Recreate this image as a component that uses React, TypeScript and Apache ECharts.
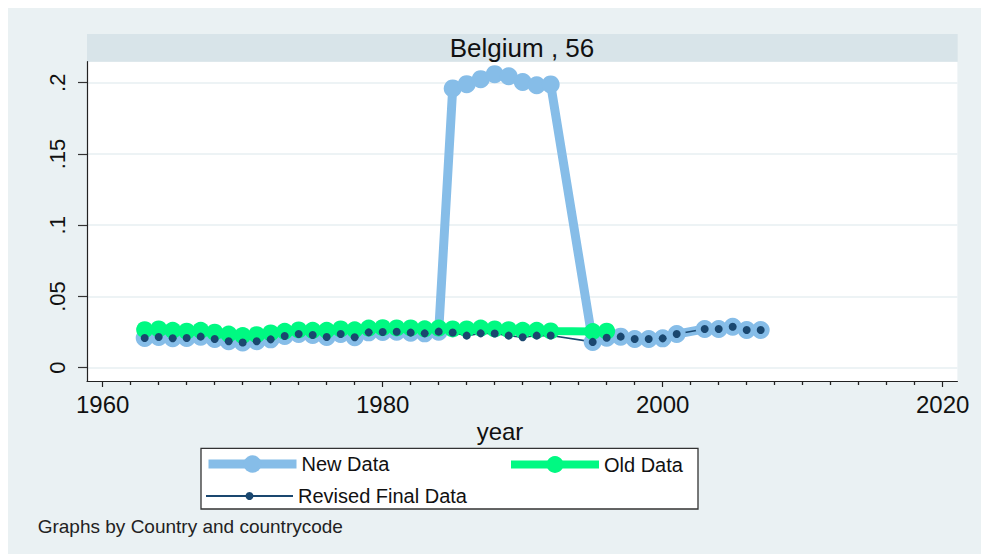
import React, { useEffect, useRef } from "react";
import * as echarts from "echarts";

// ---------- data ----------
const newYears = [
  1963, 1964, 1965, 1966, 1967, 1968, 1969, 1970, 1971, 1972, 1973, 1974, 1975, 1976, 1977,
  1978, 1979, 1980, 1981, 1982, 1983, 1984, 1985, 1986, 1987, 1988, 1989, 1990, 1991, 1992,
  1995, 1996, 1997, 1998, 1999, 2000, 2001, 2003, 2004, 2005, 2006, 2007,
];
const newValues = [
  0.0208, 0.0216, 0.0207, 0.0209, 0.0218, 0.0201, 0.0186, 0.0177, 0.0186, 0.0199, 0.0223, 0.0237, 0.0230, 0.0215, 0.0237,
  0.0214, 0.0248, 0.0251, 0.0252, 0.0246, 0.0241, 0.0253, 0.1960, 0.1990, 0.2025, 0.2060, 0.2045, 0.2005, 0.1982, 0.1988,
  0.0181, 0.0210, 0.0218, 0.0201, 0.0201, 0.0206, 0.0236, 0.0272, 0.0272, 0.0287, 0.0265, 0.0265,
];

const oldYears = [
  1963, 1964, 1965, 1966, 1967, 1968, 1969, 1970, 1971, 1972, 1973, 1974, 1975, 1976, 1977,
  1978, 1979, 1980, 1981, 1982, 1983, 1984, 1985, 1986, 1987, 1988, 1989, 1990, 1991, 1992,
  1995, 1996,
];
const oldValues = [
  0.0267, 0.0272, 0.0262, 0.0256, 0.0262, 0.0249, 0.0236, 0.0226, 0.0232, 0.0244, 0.0255, 0.0265, 0.0262, 0.0262, 0.0272,
  0.0266, 0.0278, 0.0281, 0.0279, 0.0279, 0.0273, 0.0278, 0.0272, 0.0272, 0.0278, 0.0272, 0.0267, 0.0262, 0.0262, 0.0258,
  0.0254, 0.0256,
];

const revisedYears = [
  1963, 1964, 1965, 1966, 1967, 1968, 1969, 1970, 1971, 1972, 1973, 1974, 1975, 1976, 1977,
  1978, 1979, 1980, 1981, 1982, 1983, 1984, 1985, 1986, 1987, 1988, 1989, 1990, 1991, 1992,
  1995, 1996, 1997, 1998, 1999, 2000, 2001, 2003, 2004, 2005, 2006, 2007,
];
const revisedValues = [
  0.0208, 0.0216, 0.0207, 0.0209, 0.0218, 0.0201, 0.0186, 0.0177, 0.0186, 0.0199, 0.0223, 0.0237, 0.0230, 0.0215, 0.0237,
  0.0214, 0.0248, 0.0251, 0.0252, 0.0246, 0.0241, 0.0253, 0.0247, 0.0225, 0.0241, 0.0240, 0.0225, 0.0214, 0.0225, 0.0226,
  0.0181, 0.0210, 0.0218, 0.0201, 0.0201, 0.0206, 0.0236, 0.0272, 0.0272, 0.0287, 0.0265, 0.0265,
];

const xMajorTicks = [1960, 1980, 2000, 2020];
const xMinorTicks = [
  1962, 1964, 1966, 1968, 1970, 1972, 1974, 1976, 1978, 1982, 1984, 1986, 1988, 1990, 1992,
  1994, 1996, 1998, 2002, 2004, 2006, 2008, 2010, 2012, 2014, 2016, 2018,
];
const yTicks = [0, 0.05, 0.1, 0.15, 0.2];

const panelTitle = "Belgium , 56";
const xTitle = "year";
const noteText = "Graphs by Country and countrycode";
const seriesNames = ["New Data", "Old Data", "Revised Final Data"];

const FONT = "'Liberation Sans', Arial, Helvetica, sans-serif";

const pairs = (xs: number[], ys: number[]) => xs.map((x, i) => [x, ys[i]]);

export default function App() {
  const ref = useRef<HTMLDivElement>(null);

  useEffect(() => {
    document.body.style.margin = "0";
    document.body.style.overflow = "hidden";
    const chart = echarts.init(ref.current!, undefined, { renderer: "svg" });

    const C_NEW = "#86bde8";
    const C_OLD = "#00f982";
    const C_REV = "#1a476f";

    chart.setOption({
      animation: false,
      backgroundColor: "#eaf1f3",
      textStyle: { fontFamily: FONT },
      grid: {
        left: 87,
        top: 61.7,
        width: 870.4,
        height: 319.3,
        show: true,
        backgroundColor: "#ffffff",
        borderWidth: 0,
      },
      xAxis: [
        {
          type: "value",
          position: "bottom",
          min: 1958.88,
          max: 2021.05,
          axisLine: { show: true, onZero: false, lineStyle: { color: "#222", width: 1.2 } },
          axisTick: { show: true, length: 6, customValues: xMajorTicks, lineStyle: { color: "#222", width: 1.2 } },
          axisLabel: {
            customValues: xMajorTicks,
            fontSize: 24,
            color: "#111",
            margin: 11,
            fontFamily: FONT,
            formatter: (v: number) => String(v),
          },
          splitLine: { show: false },
        },
        {
          type: "value",
          position: "bottom",
          min: 1958.88,
          max: 2021.05,
          axisLine: { show: false, onZero: false },
          axisTick: { show: true, length: 4, customValues: xMinorTicks, lineStyle: { color: "#222", width: 1.3 } },
          axisLabel: { show: false },
          splitLine: { show: false },
        },
      ],
      yAxis: {
        type: "value",
        min: -0.00933,
        max: 0.21474,
        axisLine: { show: true, onZero: false, lineStyle: { color: "#222", width: 1.2 } },
        axisTick: { show: true, length: 9, customValues: yTicks, lineStyle: { color: "#333", width: 1.2 } },
        axisLabel: {
          customValues: yTicks,
          rotate: 90,
          fontSize: 22,
          color: "#111",
          margin: 19,
          fontFamily: FONT,
          formatter: (v: number) => (v === 0 ? "0" : String(v).replace(/^0/, "")),
        },
        splitLine: { show: true, lineStyle: { color: "#e7eff2", width: 1.5 } },
      },
      legend: [
        {
          data: [seriesNames[0]],
          left: 204,
          top: 454,
          padding: 0,
          itemWidth: 88,
          itemHeight: 22,
          lineStyle: { width: 9 },
          textStyle: { fontSize: 20, color: "#111", fontFamily: FONT },
          selectedMode: false,
        },
        {
          data: [seriesNames[1]],
          left: 507,
          top: 454.5,
          padding: 0,
          itemWidth: 88,
          itemHeight: 21,
          lineStyle: { width: 8 },
          textStyle: { fontSize: 20, color: "#111", fontFamily: FONT },
          selectedMode: false,
        },
        {
          data: [seriesNames[2]],
          left: 205,
          top: 486,
          padding: 0,
          itemWidth: 87,
          itemHeight: 10,
          lineStyle: { width: 2 },
          textStyle: { fontSize: 20, color: "#111", fontFamily: FONT },
          selectedMode: false,
        },
      ],
      graphic: [
        { type: "rect", shape: { x: 0, y: 0, width: 981, height: 8 }, style: { fill: "#ffffff" }, silent: true },
        { type: "rect", shape: { x: 0, y: 0, width: 8, height: 554 }, style: { fill: "#ffffff" }, silent: true },
        { type: "rect", shape: { x: 87, y: 34, width: 870.7, height: 27.7 }, style: { fill: "#d8e4e9" }, silent: true },
        {
          type: "text",
          x: 522,
          y: 48,
          style: { text: panelTitle, fontSize: 26, fill: "#111", align: "center", verticalAlign: "middle", fontFamily: FONT },
          silent: true,
        },
        {
          type: "text",
          x: 500,
          y: 431,
          style: { text: xTitle, fontSize: 24, fill: "#111", align: "center", verticalAlign: "middle", fontFamily: FONT },
          silent: true,
        },
        {
          type: "rect",
          shape: { x: 201, y: 448.3, width: 497, height: 60.7 },
          style: { fill: "#ffffff", stroke: "#333", lineWidth: 1.3 },
          silent: true,
        },
        {
          type: "text",
          x: 37.7,
          y: 526.7,
          style: { text: noteText, fontSize: 19, fill: "#222", align: "left", verticalAlign: "middle", fontFamily: FONT },
          silent: true,
        },
      ],
      series: [
        {
          name: seriesNames[0],
          type: "line",
          xAxisIndex: 0,
          data: pairs(newYears, newValues),
          symbol: "circle",
          symbolSize: 18,
          showAllSymbol: true,
          lineStyle: { color: C_NEW, width: 9 },
          itemStyle: { color: C_NEW },
          emphasis: { disabled: true },
        },
        {
          name: seriesNames[1],
          type: "line",
          xAxisIndex: 0,
          data: pairs(oldYears, oldValues),
          symbol: "circle",
          symbolSize: 17,
          showAllSymbol: true,
          lineStyle: { color: C_OLD, width: 8 },
          itemStyle: { color: C_OLD },
          emphasis: { disabled: true },
        },
        {
          name: seriesNames[2],
          type: "line",
          xAxisIndex: 0,
          data: pairs(revisedYears, revisedValues),
          symbol: "circle",
          symbolSize: 8,
          showAllSymbol: true,
          lineStyle: { color: C_REV, width: 1.6 },
          itemStyle: { color: C_REV },
          emphasis: { disabled: true },
        },
      ],
    });

    return () => chart.dispose();
  }, []);

  return <div ref={ref} style={{ width: 981, height: 554 }} />;
}
